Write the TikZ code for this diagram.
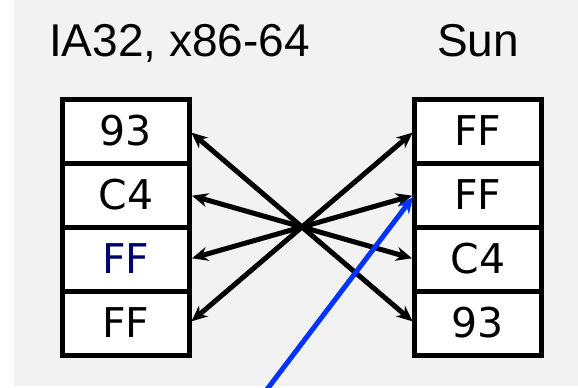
\documentclass[tikz,border=0pt]{standalone}
\usepackage{fontspec}
\usepackage{tikz}
\usetikzlibrary{arrows.meta}
\usetikzlibrary{positioning}
\newfontfamily\headfont{Liberation Sans}
\newfontfamily\bytefont{DejaVu Sans}
\definecolor{bggray}{RGB}{242,242,242}
\definecolor{ptrblue}{RGB}{0,51,255}
\definecolor{navy}{RGB}{0,0,110}
\tikzstyle{cell} = [rectangle, draw, fill=white, line width=5pt, outer sep=0pt,
    inner sep=0pt, minimum width=127pt, minimum height=64pt,
    font=\bytefont\fontsize{41}{41}\selectfont]
\tikzstyle{head} = [inner sep=0pt, font=\headfont\fontsize{46}{46}\selectfont]

\begin{document}
\begin{tikzpicture}[x=1pt,y=-1pt,node distance=0pt,
    >={Stealth[length=16pt,width=14pt]},
    byteswap/.style={<->,line width=5pt,shorten <=2.5pt,shorten >=2.5pt},
    pointer/.style={->,line width=5pt,ptrblue,shorten >=2.5pt}]
  \useasboundingbox (0,0) rectangle (578,388);
  \fill[bggray] (14,0) rectangle (578,386);

  \node[head,anchor=base west] (lefthead)  at (49,56)  {IA32, x86-64};
  \node[head,anchor=base]      (righthead) at (478,56) {Sun};

  \node[cell]           (l1) at (126,131) {93};
  \node[cell]           (l2) [below=of l1] {C4};
  \node[cell,text=navy] (l3) [below=of l2] {FF};
  \node[cell]           (l4) [below=of l3] {FF};

  \node[cell]           (r1) at (478,131) {FF};
  \node[cell]           (r2) [below=of r1] {FF};
  \node[cell]           (r3) [below=of r2] {C4};
  \node[cell]           (r4) [below=of r3] {93};

  \draw[byteswap] (l1.east) -- (r4.west);
  \draw[byteswap] (l2.east) -- (r3.west);
  \draw[byteswap] (l3.east) -- (r2.west);
  \draw[byteswap] (l4.east) -- (r1.west);

  \coordinate (addr) at (265,392);
  \draw[pointer] (addr) -- (r2.west);
\end{tikzpicture}
\end{document}
